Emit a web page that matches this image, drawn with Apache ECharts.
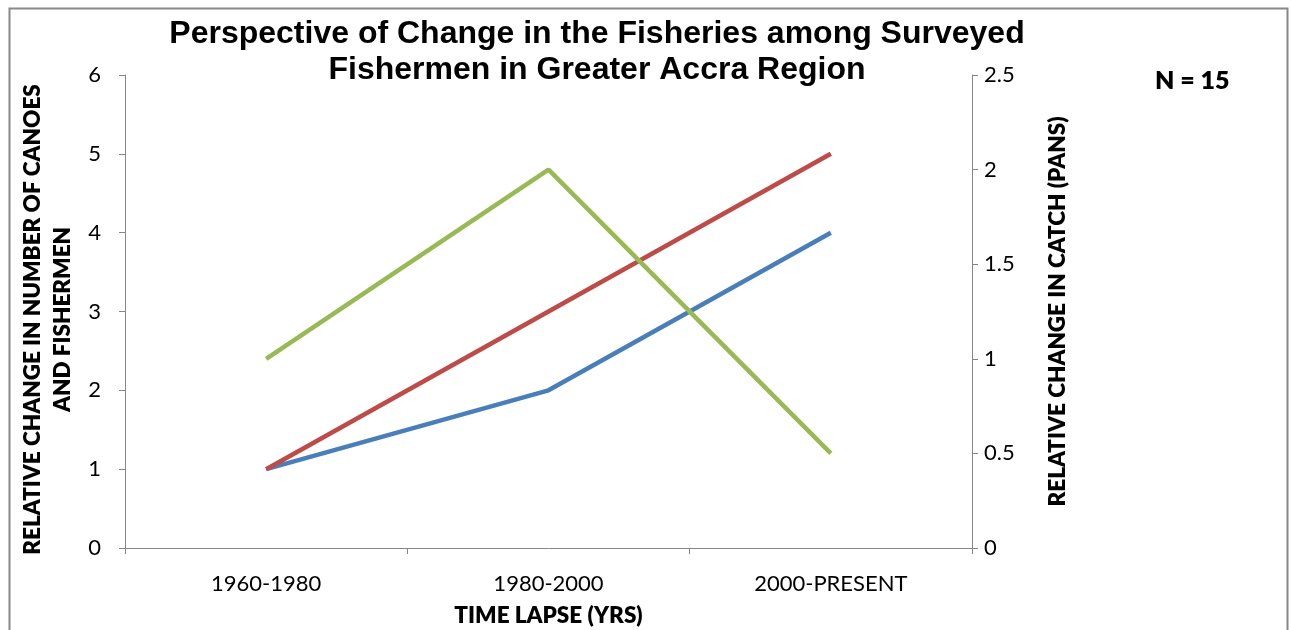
<!DOCTYPE html>
<html>
<head>
<meta charset="utf-8">
<script src="https://cdn.jsdelivr.net/npm/echarts@6/dist/echarts.min.js"></script>
<style>html,body{margin:0;padding:0;background:#fff}#c{width:1291px;height:630px}</style>
</head>
<body>
<div id="c"></div>
<script>
const categories = ['1960-1980', '1980-2000', '2000-PRESENT'];
const canoes = [1, 2, 4];
const fishermen = [1, 3, 5];
const catchPans = [1, 2, 0.5];

const chart = echarts.init(document.getElementById('c'));
const axisLine = { show: true, lineStyle: { color: '#868686', width: 1 } };
const tickFont = { color: '#000', fontFamily: 'Lato', fontSize: 22 };
const nameFont = { color: '#000', fontFamily: 'Lato', fontSize: 22.5, fontWeight: 800 };
chart.setOption({
  animation: false,
  backgroundColor: '#fff',
  title: {
    text: 'Perspective of Change in the Fisheries among Surveyed\nFishermen in Greater Accra Region',
    left: 597, top: 16, padding: 0, textAlign: 'center',
    textStyle: { fontFamily: 'Liberation Sans', fontSize: 32, fontWeight: 'bold', color: '#000', lineHeight: 36 }
  },
  graphic: [
    { type: 'rect', left: 7, top: 6, shape: { width: 1278, height: 640 }, style: { fill: 'none', stroke: '#888', lineWidth: 2 }, silent: true },
    { type: 'text', left: 1155, top: 68, style: { text: 'N = 15', fontFamily: 'Lato', fontSize: 25, fontWeight: 800, fill: '#000' } }
  ],
  grid: { left: 125, right: 319, top: 75, bottom: 82, outerBoundsMode: 'none', containLabel: false },
  xAxis: {
    type: 'category', data: categories, boundaryGap: true,
    axisLine: axisLine,
    axisTick: { show: true, length: 6, lineStyle: { color: '#868686' } },
    axisLabel: Object.assign({ margin: 25 }, tickFont),
    name: 'TIME LAPSE (YRS)', nameLocation: 'middle', nameGap: 56, nameTextStyle: nameFont
  },
  yAxis: [
    {
      type: 'value', min: 0, max: 6, interval: 1, position: 'left',
      axisLine: axisLine, axisTick: { show: true, length: 6, lineStyle: { color: '#868686' } },
      splitLine: { show: false },
      axisLabel: Object.assign({ margin: 24 }, tickFont),
      name: 'RELATIVE CHANGE IN NUMBER OF CANOES\nAND FISHERMEN', nameLocation: 'middle', nameGap: 47,
      nameTextStyle: Object.assign({ lineHeight: 30, padding: [0, 16, 0, 0] }, nameFont)
    },
    {
      type: 'value', min: 0, max: 2.5, interval: 0.5, position: 'right',
      axisLine: axisLine, axisTick: { show: true, length: 6, lineStyle: { color: '#868686' } },
      splitLine: { show: false },
      axisLabel: Object.assign({ margin: 12 }, tickFont),
      name: 'RELATIVE CHANGE IN CATCH (PANS)', nameLocation: 'middle', nameGap: 74, nameRotate: 90,
      nameTextStyle: nameFont
    }
  ],
  series: [
    { name: 'Canoes', type: 'line', data: canoes, yAxisIndex: 0, symbol: 'none', lineStyle: { color: '#4A7EBB', width: 4.5 } },
    { name: 'Fishermen', type: 'line', data: fishermen, yAxisIndex: 0, symbol: 'none', lineStyle: { color: '#BE4B48', width: 4.5 } },
    { name: 'Catch', type: 'line', data: catchPans, yAxisIndex: 1, symbol: 'none', lineStyle: { color: '#98B954', width: 4.5 } }
  ]
});
</script>
</body>
</html>
